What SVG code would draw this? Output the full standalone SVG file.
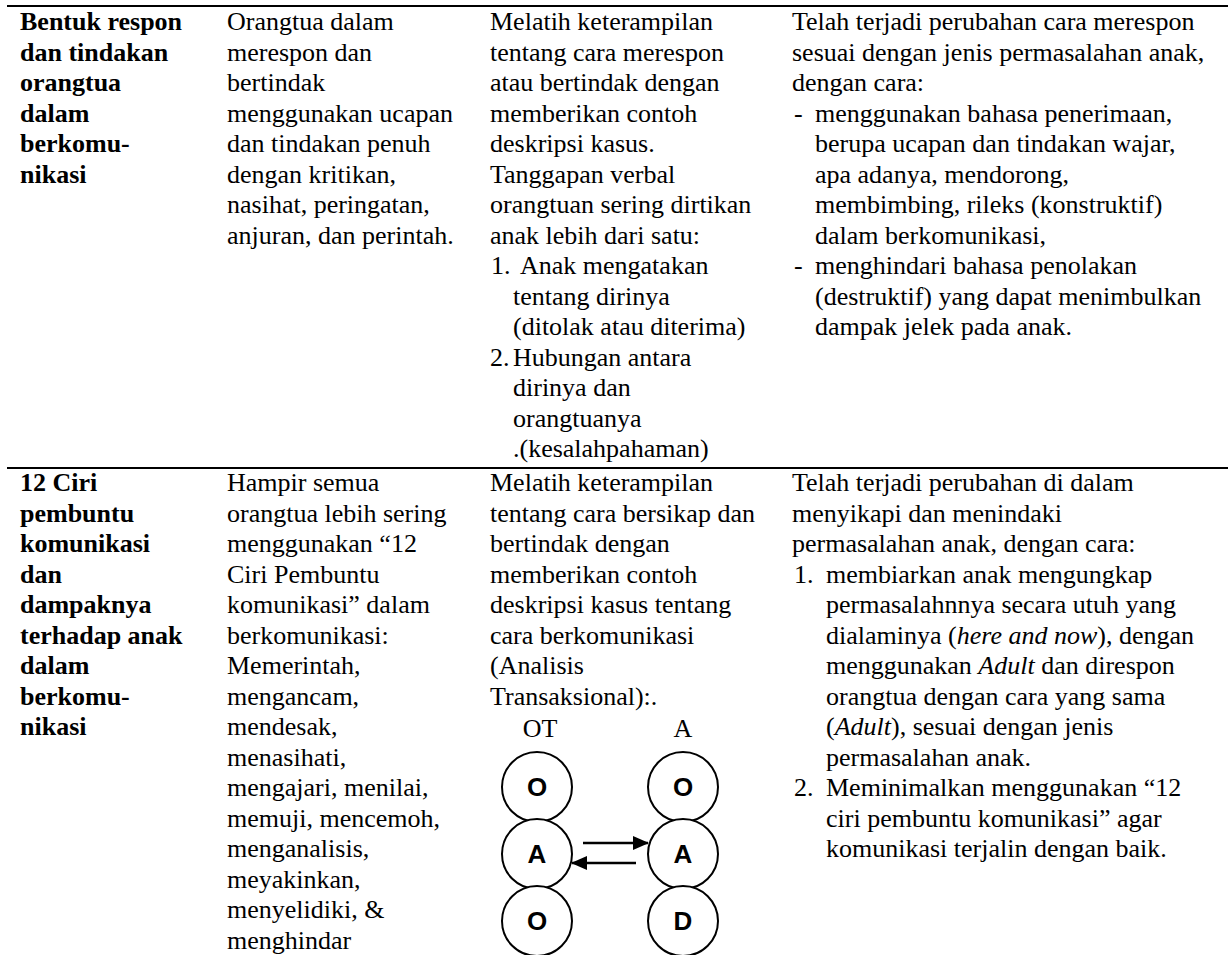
<svg xmlns="http://www.w3.org/2000/svg" width="1228" height="955" viewBox="0 0 1228 955">
<style>
text{font-family:"Liberation Serif","Times New Roman",serif;font-size:26px;fill:#000}
.b{font-weight:bold}
.rule{stroke:#000;stroke-width:2.2}
.c{fill:#fff;stroke:#000;stroke-width:2}
.l{font-family:"Liberation Sans",Arial,sans-serif;font-weight:bold;font-size:26px;text-anchor:middle}
.a{stroke:#000;stroke-width:2.6;fill:none}
</style>
<defs>
<marker id="ah" markerUnits="userSpaceOnUse" markerWidth="16" markerHeight="14" refX="15" refY="7" orient="auto">
<path d="M0,0 L16,7 L0,14 Z" fill="#000"/>
</marker>
</defs>
<rect width="1228" height="955" fill="#fff"/>
<line class="rule" x1="7" y1="6" x2="1228" y2="6"/>
<line class="rule" x1="7" y1="468" x2="1228" y2="468"/>

<g id="row1-col1">
<text class="b" x="20" y="30">Bentuk respon</text>
<text class="b" x="20" y="60.5">dan tindakan</text>
<text class="b" x="20" y="91">orangtua</text>
<text class="b" x="20" y="121.5">dalam</text>
<text class="b" x="20" y="152">berkomu-</text>
<text class="b" x="20" y="182.5">nikasi</text>
</g>
<g id="row1-col2">
<text x="227" y="30">Orangtua dalam</text>
<text x="227" y="60.5">merespon dan</text>
<text x="227" y="91">bertindak</text>
<text x="227" y="121.5">menggunakan ucapan</text>
<text x="227" y="152">dan tindakan penuh</text>
<text x="227" y="182.5">dengan kritikan,</text>
<text x="227" y="213">nasihat, peringatan,</text>
<text x="227" y="243.5">anjuran, dan perintah.</text>
</g>
<g id="row1-col3">
<text x="490" y="30">Melatih keterampilan</text>
<text x="490" y="60.5">tentang cara merespon</text>
<text x="490" y="91">atau bertindak dengan</text>
<text x="490" y="121.5">memberikan contoh</text>
<text x="490" y="152">deskripsi kasus.</text>
<text x="490" y="182.5">Tanggapan verbal</text>
<text x="490" y="213">orangtuan sering dirtikan</text>
<text x="490" y="243.5">anak lebih dari satu:</text>
<text x="491" y="274">1.</text><text x="520" y="274">Anak mengatakan</text>
<text x="513" y="304.5">tentang dirinya</text>
<text x="513" y="335">(ditolak atau diterima)</text>
<text x="490" y="365.5">2.</text><text x="513" y="365.5">Hubungan antara</text>
<text x="513" y="396">dirinya dan</text>
<text x="513" y="426.5">orangtuanya</text>
<text x="513" y="457">.(kesalahpahaman)</text>
</g>
<g id="row1-col4">
<text x="792" y="30">Telah terjadi perubahan cara merespon</text>
<text x="792" y="60.5">sesuai dengan jenis permasalahan anak,</text>
<text x="792" y="91">dengan cara:</text>
<text x="794" y="121.5">-</text><text x="815" y="121.5">menggunakan bahasa penerimaan,</text>
<text x="815" y="152">berupa ucapan dan tindakan wajar,</text>
<text x="815" y="182.5">apa adanya, mendorong,</text>
<text x="815" y="213">membimbing, rileks (konstruktif)</text>
<text x="815" y="243.5">dalam berkomunikasi,</text>
<text x="794" y="274">-</text><text x="815" y="274">menghindari bahasa penolakan</text>
<text x="815" y="304.5">(destruktif) yang dapat menimbulkan</text>
<text x="815" y="335">dampak jelek pada anak.</text>
</g>

<g id="row2-col1">
<text class="b" x="20" y="491">12 Ciri</text>
<text class="b" x="20" y="521.5">pembuntu</text>
<text class="b" x="20" y="552">komunikasi</text>
<text class="b" x="20" y="582.5">dan</text>
<text class="b" x="20" y="613">dampaknya</text>
<text class="b" x="20" y="643.5">terhadap anak</text>
<text class="b" x="20" y="674">dalam</text>
<text class="b" x="20" y="704.5">berkomu-</text>
<text class="b" x="20" y="735">nikasi</text>
</g>
<g id="row2-col2">
<text x="227" y="491">Hampir semua</text>
<text x="227" y="521.5">orangtua lebih sering</text>
<text x="227" y="552">menggunakan “12</text>
<text x="227" y="582.5">Ciri Pembuntu</text>
<text x="227" y="613">komunikasi” dalam</text>
<text x="227" y="643.5">berkomunikasi:</text>
<text x="227" y="674">Memerintah,</text>
<text x="227" y="704.5">mengancam,</text>
<text x="227" y="735">mendesak,</text>
<text x="227" y="765.5">menasihati,</text>
<text x="227" y="796">mengajari, menilai,</text>
<text x="227" y="826.5">memuji, mencemoh,</text>
<text x="227" y="857">menganalisis,</text>
<text x="227" y="887.5">meyakinkan,</text>
<text x="227" y="918">menyelidiki, &amp;</text>
<text x="227" y="948.5">menghindar</text>
</g>
<g id="row2-col3">
<text x="490" y="491">Melatih keterampilan</text>
<text x="490" y="521.5">tentang cara bersikap dan</text>
<text x="490" y="552">bertindak dengan</text>
<text x="490" y="582.5">memberikan contoh</text>
<text x="490" y="613">deskripsi kasus tentang</text>
<text x="490" y="643.5">cara berkomunikasi</text>
<text x="490" y="674">(Analisis</text>
<text x="490" y="704.5">Transaksional):.</text>
<text x="540" y="737" text-anchor="middle">OT</text>
<text x="683" y="737" text-anchor="middle">A</text>
</g>
<g id="row2-col4">
<text x="792" y="491">Telah terjadi perubahan di dalam</text>
<text x="792" y="521.5">menyikapi dan menindaki</text>
<text x="792" y="552">permasalahan anak, dengan cara:</text>
<text x="794" y="582.5">1.</text><text x="826" y="582.5">membiarkan anak mengungkap</text>
<text x="826" y="613">permasalahnnya secara utuh yang</text>
<text x="826" y="643.5">dialaminya (<tspan font-style="italic">here and now</tspan>), dengan</text>
<text x="826" y="674">menggunakan <tspan font-style="italic">Adult</tspan> dan direspon</text>
<text x="826" y="704.5">orangtua dengan cara yang sama</text>
<text x="826" y="735">(<tspan font-style="italic">Adult</tspan>), sesuai dengan jenis</text>
<text x="826" y="765.5">permasalahan anak.</text>
<text x="794" y="796">2.</text><text x="826" y="796">Meminimalkan menggunakan “12</text>
<text x="826" y="826.5">ciri pembuntu komunikasi” agar</text>
<text x="826" y="857">komunikasi terjalin dengan baik.</text>
</g>

<g id="ot-o"><circle class="c" cx="537" cy="787" r="35"/><text class="l" x="537" y="796">O</text></g>
<g id="ot-a"><circle class="c" cx="537" cy="854" r="35"/><text class="l" x="537" y="863">A</text></g>
<g id="ot-o2"><circle class="c" cx="537" cy="921" r="35"/><text class="l" x="537" y="930">O</text></g>
<g id="a-o"><circle class="c" cx="683" cy="787" r="35"/><text class="l" x="683" y="796">O</text></g>
<g id="a-a"><circle class="c" cx="683" cy="854" r="35"/><text class="l" x="683" y="863">A</text></g>
<g id="a-d"><circle class="c" cx="683" cy="921" r="35"/><text class="l" x="683" y="930">D</text></g>

<g id="connectors">
<line class="a" x1="583" y1="843" x2="648" y2="843" marker-end="url(#ah)"/>
<line class="a" x1="636" y1="863" x2="572" y2="863" marker-end="url(#ah)"/>
</g>
</svg>
